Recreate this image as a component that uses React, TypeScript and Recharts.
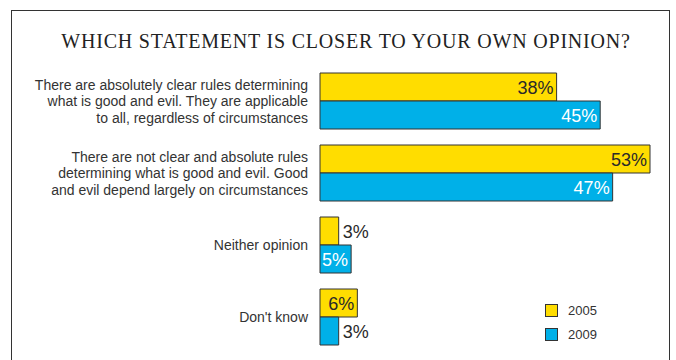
import { BarChart, Bar, XAxis, YAxis, LabelList } from 'recharts';

const categories = [
  'There are absolutely clear rules determining\nwhat is good and evil. They are applicable\nto all, regardless of circumstances',
  'There are not clear and absolute rules\ndetermining what is good and evil. Good\nand evil depend largely on circumstances',
  'Neither opinion',
  "Don't know",
];
const values2005 = [38, 53, 3, 6];
const values2009 = [45, 47, 5, 3];
const seriesNames = ['2005', '2009'];

const YELLOW = '#FFDD00';
const BLUE = '#00B0E8';
const INK = '#2a2a2a';

const data = categories.map((name, i) => ({ name, y2005: values2005[i], y2009: values2009[i] }));

const CategoryTick = (props: any) => {
  const { y, payload } = props;
  const lines = String(payload.value).split('\n');
  const lh = 16.5;
  return (
    <text x={308} y={y} textAnchor="end" fontSize={14} fill="#333" fontFamily="'Liberation Sans', Arial, sans-serif">
      {lines.map((line, i) => (
        <tspan key={i} x={308} dy={i === 0 ? -((lines.length - 1) / 2) * lh + 5 : lh}>
          {line}
        </tspan>
      ))}
    </text>
  );
};

const makeValueLabel = (insideColor: string) => (props: any) => {
  const { x, y, width, height, value } = props;
  const inside = width > 30;
  const cy = y + height / 2 + 6.5;
  return (
    <text
      x={inside ? x + width - 3 : x + width + 4}
      y={cy}
      textAnchor={inside ? 'end' : 'start'}
      fontSize={18}
      fill={inside ? insideColor : INK}
      fontFamily="'Liberation Sans', Arial, sans-serif"
    >
      {value}%
    </text>
  );
};

const LegendBox = () => (
  <div
    style={{
      position: 'absolute',
      left: 545,
      top: 298,
      fontFamily: "'Liberation Sans', Arial, sans-serif",
      fontSize: 13,
      color: '#333',
    }}
  >
    {seriesNames.map((n, i) => (
      <div key={n} style={{ display: 'flex', alignItems: 'center', height: 24 }}>
        <span
          style={{
            width: 11,
            height: 11,
            background: i === 0 ? YELLOW : BLUE,
            border: '1px solid #333',
            marginRight: 10,
            display: 'inline-block',
          }}
        />
        {n}
      </div>
    ))}
  </div>
);

export default function App() {
  return (
    <div style={{ position: 'absolute', left: 0, top: 0, width: 676, height: 360, overflow: 'hidden', background: '#fff' }}>
      <div
        style={{
          position: 'absolute',
          left: 11,
          top: 10,
          width: 657,
          height: 400,
          border: '1.5px solid #333',
        }}
      />
      <div
        style={{
          position: 'absolute',
          left: 0,
          top: 30,
          width: 692,
          textAlign: 'center',
          fontFamily: "'Liberation Serif', 'Times New Roman', serif",
          fontSize: 20,
          letterSpacing: 0.8,
          color: '#222',
          whiteSpace: 'nowrap',
        }}
      >
        WHICH STATEMENT IS CLOSER TO YOUR OWN OPINION?
      </div>
      <div style={{ position: 'absolute', left: 0, top: 0 }}>
        <BarChart
          width={676}
          height={360}
          data={data}
          layout="vertical"
          margin={{ top: 65, right: 26, bottom: 7, left: 0 }}
          barGap={0}
          barSize={28}
        >
          <XAxis type="number" hide domain={[0, 'dataMax']} />
          <YAxis type="category" dataKey="name" width={320} axisLine={false} tickLine={false} tick={<CategoryTick />} interval={0} />
          <Bar dataKey="y2005" name="2005" fill={YELLOW} stroke="#333" strokeWidth={1} isAnimationActive={false}>
            <LabelList dataKey="y2005" content={makeValueLabel(INK)} />
          </Bar>
          <Bar dataKey="y2009" name="2009" fill={BLUE} stroke="#333" strokeWidth={1} isAnimationActive={false}>
            <LabelList dataKey="y2009" content={makeValueLabel('#ffffff')} />
          </Bar>
        </BarChart>
      </div>
      <LegendBox />
    </div>
  );
}
